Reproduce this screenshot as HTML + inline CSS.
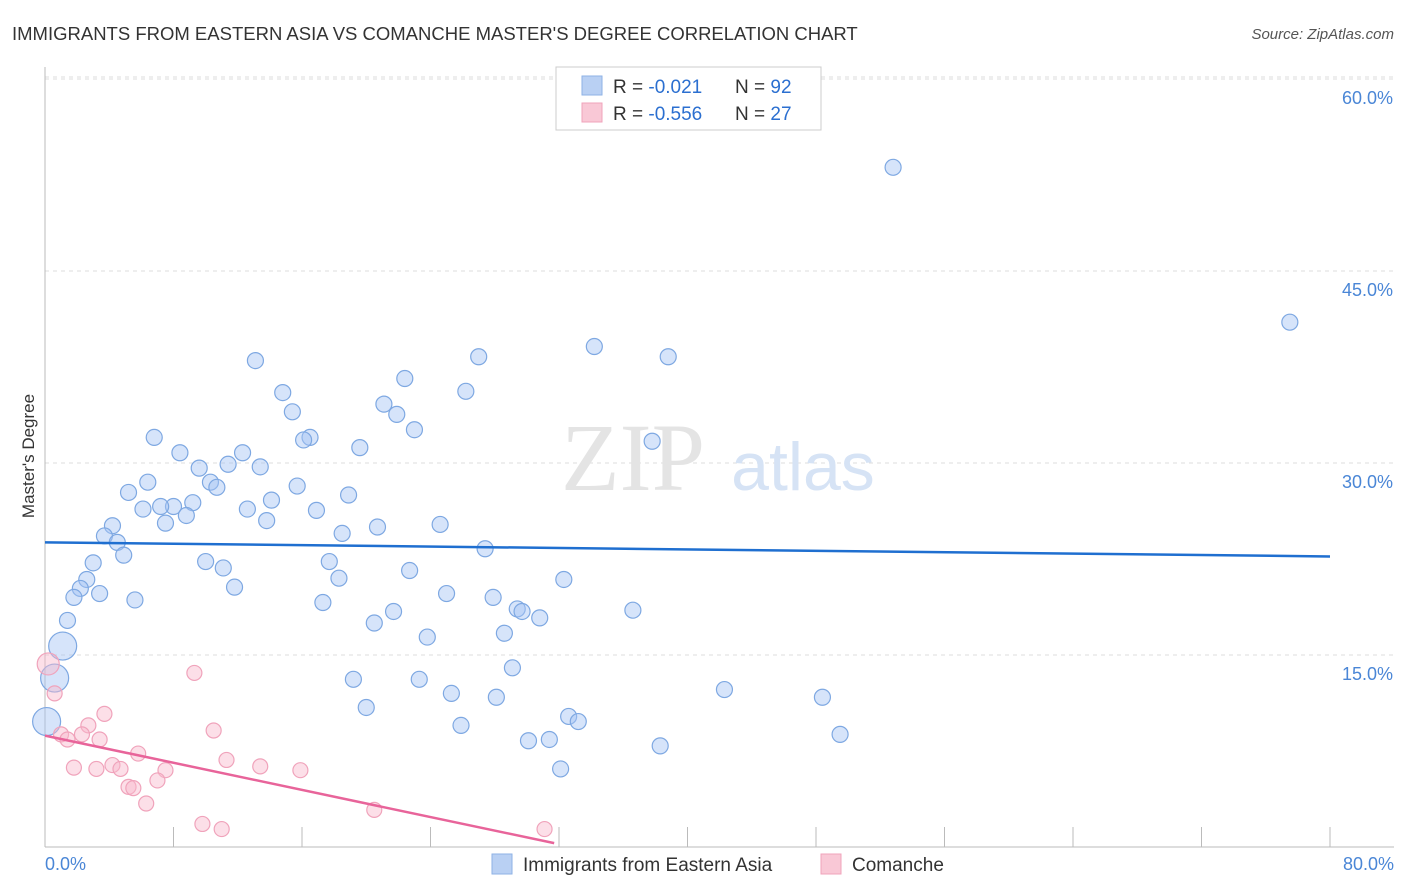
<!DOCTYPE html>
<html><head><meta charset="utf-8"><style>
body{margin:0;background:#fff;font-family:"Liberation Sans",sans-serif;}
svg{display:block}
</style></head><body>
<svg id="chart" width="1406" height="892" viewBox="0 0 1406 892">
<text x="12" y="40" font-size="18.5" fill="#333">IMMIGRANTS FROM EASTERN ASIA VS COMANCHE MASTER'S DEGREE CORRELATION CHART</text>
<text x="1394" y="39" font-size="15" fill="#555" font-style="italic" text-anchor="end">Source: ZipAtlas.com</text>
<g id="grid"></g>
<text x="633" y="490" font-size="96" fill="#e4e4e4" font-family="Liberation Serif,serif" text-anchor="middle">ZIP</text>
<text x="803" y="490" font-size="68" fill="#d6e3f5" text-anchor="middle">atlas</text>
<text transform="translate(34,456) rotate(-90)" font-size="17" fill="#333" text-anchor="middle">Master's Degree</text>
<g id="marks"></g>
<g>
<rect x="556" y="67" width="265" height="63" fill="#fff" stroke="#ccc"/>
<rect x="582" y="76" width="20" height="19" fill="#b9d0f3" stroke="#8eb2e6"/>
<text x="613" y="93" font-size="19" fill="#333">R = <tspan fill="#2b6fd0">-0.021</tspan></text>
<text x="735" y="93" font-size="19" fill="#333">N = <tspan fill="#2b6fd0">92</tspan></text>
<rect x="582" y="103" width="20" height="19" fill="#f9c8d6" stroke="#f0a3bb"/>
<text x="613" y="120" font-size="19" fill="#333">R = <tspan fill="#2b6fd0">-0.556</tspan></text>
<text x="735" y="120" font-size="19" fill="#333">N = <tspan fill="#2b6fd0">27</tspan></text>
</g>
<g>
<rect x="492" y="854" width="20" height="20" fill="#b9d0f3" stroke="#8eb2e6"/>
<text x="523" y="871" font-size="19" fill="#333">Immigrants from Eastern Asia</text>
<rect x="821" y="854" width="20" height="20" fill="#f9c8d6" stroke="#f0a3bb"/>
<text x="852" y="871" font-size="19" fill="#333">Comanche</text>
</g>
</svg>
<script>
const xTicks=[0,8,16,24,32,40,48,56,64,72,80];
const yTicks=[15,30,45,60];
const yTickLabels=["15.0%","30.0%","45.0%","60.0%"];
const xEndLabels=["0.0%","80.0%"];
const blueX=[52.8,77.5,13.1,34.2,27.0,38.8,22.4,14.8,26.2,15.4,21.1,21.9,23.0,16.5,16.1,6.8,8.4,19.6,37.8,12.3,9.6,13.4,11.4,10.3,10.7,6.4,5.2,18.9,15.7,14.1,8.0,9.2,7.2,6.1,12.6,16.9,8.8,7.5,13.8,4.2,20.7,24.6,3.7,4.5,18.5,27.4,4.9,3.0,10.0,17.7,11.1,2.6,22.7,18.3,32.3,2.2,11.8,1.8,3.4,5.6,25.0,27.9,17.3,29.4,29.7,30.8,21.7,36.6,20.5,1.4,23.8,28.6,1.1,29.1,0.6,19.2,23.3,42.3,25.3,48.4,28.1,20.0,0.1,32.6,33.2,25.9,49.5,31.4,30.1,38.3,32.1];
const blueY=[53.1,41.0,38.0,39.1,38.3,38.3,36.6,35.5,35.6,34.0,34.6,33.8,32.6,32.0,31.8,32.0,30.8,31.2,31.7,30.8,29.6,29.7,29.9,28.5,28.1,28.5,27.7,27.5,28.2,27.1,26.6,26.9,26.6,26.4,26.4,26.3,25.9,25.3,25.5,25.1,25.0,25.2,24.3,23.8,24.5,23.3,22.8,22.2,22.3,22.3,21.8,20.9,21.6,21.0,20.9,20.2,20.3,19.5,19.8,19.3,19.8,19.5,19.1,18.6,18.4,17.9,18.4,18.5,17.5,17.7,16.4,16.7,15.7,14.0,13.2,13.1,13.1,12.3,12.0,11.7,11.7,10.9,9.8,10.2,9.8,9.5,8.8,8.4,8.3,7.9,6.1];
const pinkX=[0.2,0.6,9.3,3.7,2.7,10.5,1.0,2.3,1.4,3.4,5.8,11.3,13.4,4.2,1.8,3.2,4.7,15.9,7.5,5.2,5.5,7.0,6.3,9.8,11.0,20.5,31.1];
const pinkY=[14.3,12.0,13.6,10.4,9.5,9.1,8.8,8.8,8.4,8.4,7.3,6.8,6.3,6.4,6.2,6.1,6.1,6.0,6.0,4.7,4.6,5.2,3.4,1.8,1.4,2.9,1.4];
const blueTrend=[[0,23.8],[80,22.7]];
const pinkTrend=[[0,8.7],[31.7,0.3]];

const NS="http://www.w3.org/2000/svg";
const X=v=>45+v*(1285/80);
const Y=v=>847-v*12.8;
function mk(tag,attrs,parent){const e=document.createElementNS(NS,tag);for(const k in attrs)e.setAttribute(k,attrs[k]);parent.appendChild(e);return e;}
const grid=document.getElementById('grid'),marks=document.getElementById('marks');
yTicks.forEach((t,i)=>{
 const l=mk('line',{x1:45,x2:1394,y1:Y(t),y2:Y(t),stroke:'#ddd','stroke-dasharray':'4,4'},grid);
 
 
 const tx=mk('text',{x:1393,y:Y(t)+25,'font-size':18,fill:'#4a86d6','text-anchor':'end'},grid);
 tx.textContent=yTickLabels[i];
 
 
});
const topLine=mk('line',{x1:45,x2:1394,y1:Y(60)-2,y2:Y(60)-2,stroke:'#ddd','stroke-dasharray':'4,4'},grid);


const ya=mk('line',{x1:45,x2:45,y1:67,y2:847,stroke:'#bbb'},grid);


const xa=mk('line',{x1:45,x2:1394,y1:847,y2:847,stroke:'#bbb'},grid);


xTicks.forEach(t=>{
 const l=mk('line',{x1:X(t),x2:X(t),y1:827,y2:847,stroke:'#bbb'},grid);
 
 
});
[[0,'start',45],[80,'end',1394]].forEach((d,i)=>{
 const tx=mk('text',{x:d[2],y:870,'font-size':18,fill:'#4a86d6','text-anchor':d[1]},grid);
 tx.textContent=xEndLabels[i];
 
 
});
function rad(x,y,base){ if(x<1.5&&y>9&&y<16) return base+6; return base;}
blueX.forEach((x,i)=>{
 const y=blueY[i];
 const c=mk('circle',{cx:X(x),cy:Y(y),r:rad(x,y,8),fill:'rgba(164,196,244,0.45)',stroke:'#7ea8e2','stroke-width':1.2},marks);
 
 
});
pinkX.forEach((x,i)=>{
 const y=pinkY[i];
 const c=mk('circle',{cx:X(x),cy:Y(y),r:(i===0?11:7.5),fill:'rgba(248,184,204,0.45)',stroke:'#f0a3bb','stroke-width':1.2},marks);
 
 
});
const bl=mk('line',{x1:X(blueTrend[0][0]),y1:Y(blueTrend[0][1]),x2:X(blueTrend[1][0]),y2:Y(blueTrend[1][1]),stroke:'#1f6fd0','stroke-width':2.5},marks);


const pl=mk('line',{x1:X(pinkTrend[0][0]),y1:Y(pinkTrend[0][1]),x2:X(pinkTrend[1][0]),y2:Y(pinkTrend[1][1]),stroke:'#e8649a','stroke-width':2.5},marks);


</script>
</body></html>
